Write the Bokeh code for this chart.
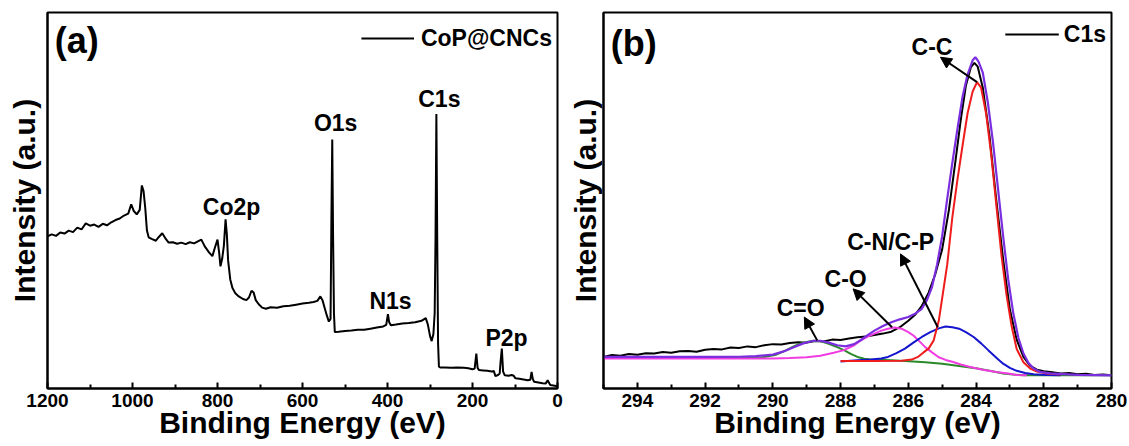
from bokeh.plotting import figure
from bokeh.models import (Range1d, FixedTicker, Legend, LegendItem, Arrow,
                          NormalHead, ColumnDataSource)
from bokeh.layouts import row
from bokeh.embed import file_html
from bokeh.resources import INLINE
from bokeh.core.properties import value

FONT = "Liberation Sans"

# ---------------- Panel (a): survey spectrum ----------------
survey_be = [1200, 1190, 1180, 1170, 1160, 1150, 1140, 1130, 1120, 1110, 1100, 1090, 1080, 1070,
             1060, 1050, 1040, 1030, 1020, 1010, 1003, 997, 990, 983, 978, 974, 970, 966, 962,
             955, 945, 938, 930, 923, 915, 905, 895, 885, 875, 865, 855, 845, 838, 830, 820, 812,
             806, 800, 796, 793, 789, 785, 781, 778, 775, 770, 765, 758, 750, 740, 732, 726, 720,
             715, 710, 703, 695, 686, 675, 660, 645, 630, 615, 600, 585, 574, 565, 558, 553, 548,
             543, 538, 534, 532, 530, 528, 526, 524, 515, 500, 485, 470, 455, 440, 425, 410, 403,
             399, 396, 392, 380, 365, 350, 335, 320, 310, 305, 300, 296, 292, 289, 287, 285, 283,
             281, 279, 276, 265, 250, 235, 220, 210, 200, 195, 191, 188, 185, 175, 165, 155, 150,
             146, 140, 136, 134, 131, 128, 124, 115, 108, 103, 99, 90, 80, 70, 64, 61, 58, 55, 45,
             35, 28, 23, 20, 17, 10, 0]
survey_int = [40.5, 41.0, 40.6, 41.5, 41.2, 42.0, 41.6, 42.8, 42.3, 43.9, 43.3, 43.6, 43.0, 43.8,
              43.4, 44.2, 44.8, 45.2, 46.0, 46.5, 49.0, 47.2, 46.3, 47.5, 54.0, 52.5, 48.0, 42.0, 40.2,
              39.8, 39.3, 40.3, 41.3, 40.0, 38.8, 38.9, 38.5, 38.8, 38.4, 38.9, 38.6, 39.2, 39.6, 37.8,
              36.2, 35.2, 37.5, 39.6, 36.0, 32.5, 34.5, 38.0, 45.0, 41.0, 34.0, 29.0, 26.8, 25.3, 24.5,
              23.8, 23.5, 24.2, 26.0, 25.5, 23.5, 22.4, 21.5, 21.2, 21.6, 21.5, 21.9, 22.0, 22.3, 22.6,
              22.8, 23.0, 23.3, 24.5, 23.5, 21.5, 19.5, 17.8, 18.5, 45.0, 66.2, 40.0, 20.0, 15.0, 15.1,
              15.3, 15.4, 15.6, 15.6, 15.9, 16.2, 16.5, 16.9, 19.8, 17.6, 16.8, 17.0, 17.3, 17.4, 17.6,
              18.0, 18.7, 17.0, 14.0, 12.6, 14.5, 20.0, 40.0, 73.0, 40.0, 12.0, 5.8, 5.6, 5.6, 5.5,
              5.6, 5.5, 5.4, 5.1, 5.3, 9.3, 5.5, 4.9, 4.8, 4.7, 4.5, 4.7, 3.3, 3.6, 4.0, 7.0, 10.6, 4.5,
              3.5, 3.4, 3.6, 3.4, 2.7, 2.6, 2.4, 2.2, 2.3, 4.4, 2.5, 1.8, 1.6, 1.4, 1.3, 2.2, 1.5, 0.9,
              0.8, 0.6]

survey_labels = ["Co2p", "O1s", "N1s", "C1s", "P2p"]
survey_label_x = [767, 522, 393, 278, 120]
survey_label_y = [48.4, 70.5, 23.4, 77.1, 13.3]

a_ticks = [1200, 1000, 800, 600, 400, 200, 0]
a_tick_labels = ["1200", "1000", "800", "600", "400", "200", "0"]
a_minor = [1100, 900, 700, 500, 300, 100]

# ---------------- Panel (b): C1s high resolution ----------------
c1s_be = [295.0, 294.75, 294.5, 294.25, 294.0, 293.75, 293.5, 293.25, 293.0, 292.75, 292.5, 292.25,
          292.0, 291.75, 291.5, 291.25, 291.0, 290.75, 290.5, 290.25, 290.0, 289.75, 289.5, 289.25,
          289.0, 288.75, 288.5, 288.25, 288.0, 287.75, 287.5, 287.25, 287.0, 286.75, 286.5, 286.25,
          286.0, 285.8, 285.6, 285.4, 285.2, 285.0, 284.8, 284.6, 284.45, 284.3, 284.15, 284.05,
          283.95, 283.8, 283.6, 283.4, 283.2, 283.0, 282.8, 282.6, 282.4, 282.2, 282.0, 281.75,
          281.5, 281.25, 281.0, 280.75, 280.5, 280.25, 280.0]
c1s_int = [8.4, 8.9, 8.7, 9.2, 9.0, 9.4, 9.3, 9.7, 9.5, 9.9, 10.0, 9.8, 10.3, 10.5, 10.4, 10.9, 10.8,
           11.2, 11.0, 11.5, 11.8, 11.7, 12.1, 12.3, 12.2, 12.6, 12.5, 13.0, 12.9, 13.3, 13.6, 13.8,
           14.2, 14.6, 15.1, 16.3, 18.0, 19.6, 22.0, 25.5, 30.5, 37.0, 47.5, 61.0, 71.5, 80.5, 85.5,
           86.6, 85.6, 80.0, 67.0, 50.0, 34.4, 21.0, 13.0, 8.4, 6.0, 5.0, 4.6, 4.3, 4.0, 4.1, 3.8,
           3.9, 3.6, 3.7, 3.5]

env_be = [295.0, 294.0, 293.0, 292.0, 291.0, 290.5, 290.0, 289.7, 289.4, 289.1, 288.8, 288.6, 288.35,
          288.1, 287.85, 287.6, 287.4, 287.2, 287.0, 286.75, 286.5, 286.25, 286.0, 285.8, 285.6,
          285.45, 285.3, 285.15, 285.0, 284.85, 284.7, 284.55, 284.4, 284.25, 284.1, 284.02, 283.93,
          283.8, 283.65, 283.5, 283.35, 283.2, 283.05, 282.9, 282.75, 282.6, 282.45, 282.3, 282.1,
          281.8, 281.0, 280.0]
env_int = [8.4, 8.4, 8.4, 8.4, 8.45, 8.6, 9.0, 9.8, 10.9, 12.0, 12.7, 12.7, 12.2, 11.5, 11.2, 11.8,
           12.9, 14.2, 15.4, 16.6, 17.6, 18.4, 19.0, 19.9, 21.2, 23.5, 27.0, 33.0, 40.5, 50.5, 60.0,
           69.0, 77.5, 83.5, 87.3, 88.1, 87.0, 84.0, 76.0, 65.5, 53.0, 40.5, 29.0, 20.0, 13.5, 9.3,
           6.8, 5.3, 4.4, 4.0, 3.6, 3.5]

cc_be = [288.0, 287.0, 286.2, 285.9, 285.7, 285.55, 285.4, 285.25, 285.1, 285.0, 284.85, 284.7,
         284.55, 284.4, 284.25, 284.1, 283.97, 283.85, 283.7, 283.55, 283.4, 283.25, 283.1, 282.95,
         282.8, 282.6, 282.4, 282.2, 281.9, 281.5]
cc_int = [7.3, 7.3, 7.4, 7.7, 8.5, 9.6, 10.6, 12.8, 18.0, 24.0, 33.0, 45.5, 55.5, 64.5, 73.2, 79.0,
          81.5, 80.0, 73.0, 62.0, 48.7, 35.5, 24.9, 16.6, 10.5, 7.0, 5.3, 4.5, 4.0, 3.7]

cn_be = [288.0, 287.5, 287.1, 286.8, 286.6, 286.35, 286.1, 285.85, 285.6, 285.35, 285.1, 284.9,
         284.7, 284.5, 284.3, 284.07, 283.85, 283.64, 283.4, 283.2, 283.0, 282.8, 282.55, 282.3,
         281.9, 281.5]
cn_int = [7.2, 7.5, 7.7, 8.0, 8.4, 9.4, 10.6, 12.2, 13.7, 15.0, 16.0, 16.5, 16.3, 15.9, 15.0, 13.7,
          12.0, 10.2, 8.2, 6.6, 5.5, 4.7, 4.1, 3.8, 3.6, 3.5]

co_be = [295.0, 293.0, 291.0, 290.0, 289.5, 289.0, 288.6, 288.2, 287.9, 287.6, 287.4, 287.2, 287.0,
         286.8, 286.6, 286.4, 286.2, 286.0, 285.85, 285.7, 285.5, 285.3, 285.1, 284.9, 284.7, 284.45,
         284.2, 283.8, 283.4, 283.0, 282.8, 282.5]
co_int = [8.0, 8.0, 8.0, 8.0, 8.1, 8.3, 8.7, 9.5, 10.2, 11.5, 12.8, 13.8, 14.6, 15.4, 15.9, 16.2,
          15.9, 15.0, 14.1, 12.8, 11.0, 9.6, 8.3, 7.6, 7.1, 6.4, 5.8, 5.0, 4.4, 3.9, 3.6, 3.5]

cdo_be = [295.0, 293.0, 291.0, 290.3, 289.9, 289.6, 289.4, 289.2, 289.0, 288.8, 288.6, 288.35, 288.1,
          287.9, 287.7, 287.5, 287.3, 287.1, 286.5, 286.1, 285.5, 285.0, 284.5, 283.96, 283.6, 283.2,
          282.9, 282.6, 281.5, 280.0]
cdo_int = [8.2, 8.2, 8.2, 8.3, 9.0, 10.2, 11.1, 11.9, 12.4, 12.7, 12.6, 11.9, 11.0, 10.2, 9.2, 8.4,
           7.9, 7.7, 7.5, 7.3, 7.0, 6.6, 6.0, 5.3, 4.7, 4.0, 3.7, 3.5, 3.5, 3.5]

b_labels = ["C=O", "C-O", "C-N/C-P", "C-C"]
b_label_x = [289.18, 287.85, 286.52, 285.3]
b_label_y = [21.4, 29.0, 38.9, 90.8]
b_arrow_x0 = [288.69, 286.48, 285.13, 283.97]
b_arrow_y0 = [12.8, 16.3, 16.3, 81.5]
b_arrow_x1 = [289.07, 287.63, 286.23, 285.05]
b_arrow_y1 = [19.0, 26.5, 35.8, 88.1]

b_ticks = [294, 292, 290, 288, 286, 284, 282, 280]
b_tick_labels = ["294", "292", "290", "288", "286", "284", "282", "280"]
b_minor = [295, 293, 291, 289, 287, 285, 283, 281]

colors = {"raw": "black", "env": "#7b2ee0", "cc": "#ee1c1c", "cn": "#1515d0",
          "co": "#f03ce0", "cdo": "#2a8a2a"}


def make_fig(width, xr, ticks, tick_labels, minor, left, right, ylab_standoff):
    p = figure(width=width, height=446, x_range=xr, y_range=Range1d(0, 100),
               output_backend="svg", toolbar_location=None,
               min_border_left=left, min_border_right=right,
               min_border_top=12, min_border_bottom=58)
    p.background_fill_color = "white"
    p.border_fill_color = "white"
    p.outline_line_color = "black"
    p.outline_line_width = 2
    p.outline_line_alpha = 1
    p.xgrid.visible = False
    p.ygrid.visible = False
    xa = p.xaxis[0]
    xa.ticker = FixedTicker(ticks=ticks, minor_ticks=minor)
    xa.major_label_overrides = {t: l for t, l in zip(ticks, tick_labels)}
    xa.major_tick_in = 6
    xa.major_tick_out = 0
    xa.minor_tick_in = 4
    xa.minor_tick_out = 0
    xa.major_tick_line_width = 2
    xa.minor_tick_line_width = 2
    xa.axis_line_width = 2
    xa.major_label_standoff = 5
    xa.major_label_text_font = FONT
    xa.major_label_text_font_size = "19px"
    xa.major_label_text_font_style = "bold"
    xa.major_label_text_color = "black"
    xa.axis_label = "Binding Energy (eV)"
    xa.axis_label_text_font = FONT
    xa.axis_label_text_font_size = "30px"
    xa.axis_label_text_font_style = "bold"
    xa.axis_label_text_color = "black"
    xa.axis_label_standoff = -4
    ya = p.yaxis[0]
    ya.ticker = FixedTicker(ticks=[])
    ya.major_tick_in = 0
    ya.major_tick_out = 0
    ya.minor_tick_in = 0
    ya.minor_tick_out = 0
    ya.axis_line_width = 2
    ya.axis_label = "Intensity (a.u.)"
    ya.axis_label_text_font = FONT
    ya.axis_label_text_font_size = "30px"
    ya.axis_label_text_font_style = "bold"
    ya.axis_label_text_color = "black"
    ya.axis_label_standoff = ylab_standoff
    return p


def add_legend(p, label, renderer, gh, gw, standoff):
    leg = Legend(items=[LegendItem(label=value(label), renderers=[renderer])],
                 location="top_right", border_line_alpha=0, background_fill_alpha=0,
                 glyph_width=gw, glyph_height=gh, label_height=gh, label_standoff=standoff,
                 padding=2, margin=3, label_text_font=FONT, label_text_font_size="23px",
                 label_text_font_style="bold", label_text_color="black")
    p.add_layout(leg)


# Panel a
pa = make_fig(565, Range1d(1200, 0), a_ticks, a_tick_labels, a_minor, 47, 8, 7)
ra = pa.line(survey_be, survey_int, line_color="black", line_width=2)
pa.text(x=survey_label_x, y=survey_label_y, text=survey_labels, text_font=value(FONT),
        text_font_size=value("23px"), text_font_style="bold", text_align="center",
        text_baseline="middle", text_color="black")
pa.text(x=[1131], y=[92.6], text=["(a)"], text_font=value(FONT), text_font_size=value("36px"),
        text_font_style="bold", text_align="center", text_baseline="middle", text_color="black")
add_legend(pa, "CoP@CNCs", ra, 42, 53, 7)

# Panel b
pb = make_fig(564, Range1d(295, 280), b_ticks, b_tick_labels, b_minor, 38, 18, 2)
rb = pb.line(c1s_be, c1s_int, line_color=colors["raw"], line_width=2)
pb.line(cdo_be, cdo_int, line_color=colors["cdo"], line_width=2)
pb.line(co_be, co_int, line_color=colors["co"], line_width=2)
pb.line(cn_be, cn_int, line_color=colors["cn"], line_width=2)
pb.line(cc_be, cc_int, line_color=colors["cc"], line_width=2)
pb.line(env_be, env_int, line_color=colors["env"], line_width=2.2)
pb.text(x=b_label_x, y=b_label_y, text=b_labels, text_font=value(FONT),
        text_font_size=value("23px"), text_font_style="bold", text_align="center",
        text_baseline="middle", text_color="black")
pb.text(x=[294.11], y=[91.8], text=["(b)"], text_font=value(FONT), text_font_size=value("36px"),
        text_font_style="bold", text_align="center", text_baseline="middle", text_color="black")
arrow_src = ColumnDataSource(dict(x0=b_arrow_x0, y0=b_arrow_y0, x1=b_arrow_x1, y1=b_arrow_y1))
pb.add_layout(Arrow(end=NormalHead(size=11, fill_color="black", line_color="black"),
                    x_start="x0", y_start="y0", x_end="x1", y_end="y1", source=arrow_src,
                    line_color="black", line_width=2))
add_legend(pb, "C1s", rb, 34, 54, 5)

layout = row(pa, pb)
open("out.html", "w").write(file_html(layout, INLINE))
